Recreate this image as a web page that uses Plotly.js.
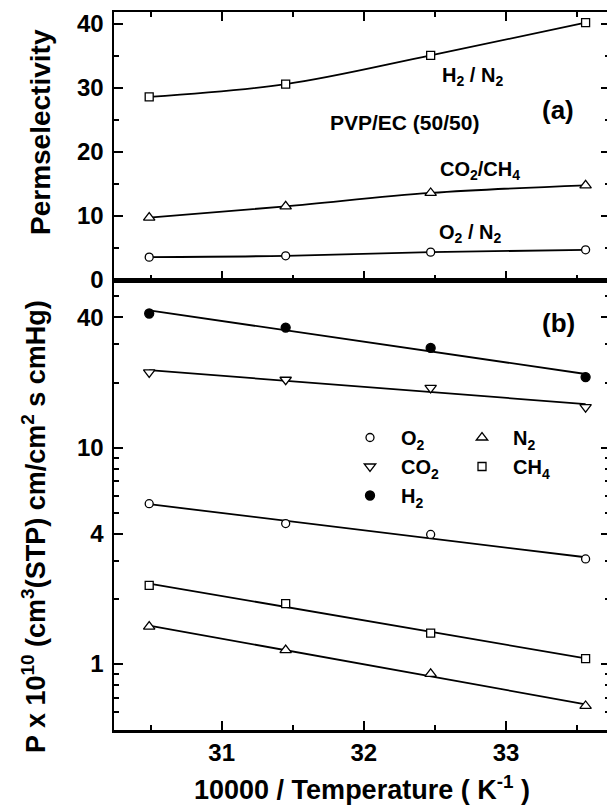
<!DOCTYPE html>
<html>
<head>
<meta charset="utf-8">
<script src="https://cdn.plot.ly/plotly-3.0.1.min.js"></script>
<style>
html, body { margin: 0; padding: 0; overflow: hidden; background: #fff; }
#chart { width: 622px; height: 805px; }
</style>
</head>
<body>
<div id="chart"></div>
<script>
// ---- data ----
const invT = [30.49, 31.45, 32.47, 33.56];          // 10000 / T (K^-1)
const selH2N2 = [28.6, 30.6, 35.1, 40.2];
const selCO2CH4 = [9.75, 11.5, 13.6, 14.8];
const selO2N2 = [3.57, 3.78, 4.35, 4.72];
const permO2 = [5.51, 4.46, 3.97, 3.06];
const permN2 = [1.49, 1.16, 0.90, 0.64];
const permCO2 = [22.3, 20.6, 18.9, 15.4];
const permCH4 = [2.31, 1.90, 1.39, 1.06];
const permH2 = [41.7, 35.9, 28.9, 21.2];
const xTickVals = [31, 32, 33];
const xTickText = ['31', '32', '33'];
const selTickVals = [0, 10, 20, 30, 40];
const selTickText = ['0', '10', '20', '30', '40'];
const permTickVals = [1, 4, 10, 40];
const permTickText = ['1', '4', '10', '40'];

// ---- geometry helpers ----
const W = 622, H = 805;
const L = 114, R = 610, TOP = 12, BOT = 730, MID = 280;
const PW = R - L, PH = BOT - TOP;
const px = x => (x - L) / PW;
const py = y => (BOT - y) / PH;
const splitFrac = (BOT - MID) / PH;

const FONT = 'Liberation Sans, Arial, Helvetica, sans-serif';

// least squares fit in log space (Arrhenius line)
function logFit(xs, ys) {
  const n = xs.length;
  const ly = ys.map(v => Math.log10(v));
  const mx = xs.reduce((a, b) => a + b, 0) / n;
  const my = ly.reduce((a, b) => a + b, 0) / n;
  let sxy = 0, sxx = 0;
  for (let i = 0; i < n; i++) { sxy += (xs[i] - mx) * (ly[i] - my); sxx += (xs[i] - mx) ** 2; }
  const b = sxy / sxx, a = my - b * mx;
  const xe = [xs[0], xs[n - 1]];
  return { x: xe, y: xe.map(x => Math.pow(10, a + b * x)) };
}

const mk = (symbol, fill, size) => ({ symbol: symbol, size: size, color: fill, line: { color: '#000', width: 1.3 } });
const lineStyle = { color: '#000', width: 1.8 };

const traces = [];
// panel (a)
traces.push({ x: invT, y: selH2N2, xaxis: 'x2', yaxis: 'y', mode: 'lines+markers', line: Object.assign({ shape: 'spline' }, lineStyle), marker: mk('square', '#fff', 8), showlegend: false, cliponaxis: false });
traces.push({ x: invT, y: selCO2CH4, xaxis: 'x2', yaxis: 'y', mode: 'lines+markers', line: Object.assign({ shape: 'spline' }, lineStyle), marker: mk('triangle-up', '#fff', 10), showlegend: false, cliponaxis: false });
traces.push({ x: invT, y: selO2N2, xaxis: 'x2', yaxis: 'y', mode: 'lines+markers', line: Object.assign({ shape: 'spline' }, lineStyle), marker: mk('circle', '#fff', 8), showlegend: false, cliponaxis: false });

// panel (b) fit lines
[permH2, permCO2, permO2, permCH4, permN2].forEach(s => {
  const f = logFit(invT, s);
  traces.push({ x: f.x, y: f.y, xaxis: 'x', yaxis: 'y2', mode: 'lines', line: lineStyle, showlegend: false, hoverinfo: 'skip' });
});
// panel (b) markers
traces.push({ x: invT, y: permO2, xaxis: 'x', yaxis: 'y2', mode: 'markers', name: 'O<sub>2</sub>', marker: mk('circle', '#fff', 8), legend: 'legend', legendgroup: 'a' });
traces.push({ x: invT, y: permCO2, xaxis: 'x', yaxis: 'y2', mode: 'markers', name: 'CO<sub>2</sub>', marker: mk('triangle-down', '#fff', 10), legend: 'legend', legendgroup: 'b' });
traces.push({ x: invT, y: permH2, xaxis: 'x', yaxis: 'y2', mode: 'markers', name: 'H<sub>2</sub>', marker: mk('circle', '#000', 9), legend: 'legend', legendgroup: 'c' });
traces.push({ x: invT, y: permN2, xaxis: 'x', yaxis: 'y2', mode: 'markers', name: 'N<sub>2</sub>', marker: mk('triangle-up', '#fff', 10), legend: 'legend2', legendgroup: 'd' });
traces.push({ x: invT, y: permCH4, xaxis: 'x', yaxis: 'y2', mode: 'markers', name: 'CH<sub>4</sub>', marker: mk('square', '#fff', 8), legend: 'legend2', legendgroup: 'e' });

const xr = [31 - (221.7 - L) / 142.15, 31 + (R - 221.7) / 142.15];
const tickFont = { family: FONT, size: 24, color: '#000', weight: 700 };
const xMinor = { tickvals: [30.5, 31.5, 32.5, 33.5], ticklen: 5, tickwidth: 2, tickcolor: '#000', ticks: 'inside' };

const legendCommon = {
  orientation: 'v', xanchor: 'left', yanchor: 'top', bgcolor: 'rgba(0,0,0,0)', borderwidth: 0,
  font: { family: FONT, size: 20, color: '#000', weight: 700 }, tracegroupgap: 0, itemwidth: 52
};

const layout = {
  width: W, height: H,
  margin: { l: L, r: W - R, t: TOP, b: H - BOT, pad: 0 },
  paper_bgcolor: '#fff', plot_bgcolor: '#fff',
  font: { family: FONT, color: '#000' },
  showlegend: true,
  xaxis: {
    domain: [0, 1], anchor: 'y2', range: xr, showgrid: false, zeroline: false,
    showline: true, linewidth: 2.5, linecolor: '#000', mirror: true,
    ticks: 'inside', ticklen: 9, tickwidth: 2, tickcolor: '#000',
    tickmode: 'array', tickvals: xTickVals, ticktext: xTickText, tickfont: tickFont,
    minor: xMinor,
    title: { text: '10000 / Temperature ( K<sup>-1</sup> )', font: { family: FONT, size: 27, color: '#000', weight: 700 }, standoff: 16 }
  },
  xaxis2: {
    domain: [0, 1], anchor: 'y', matches: 'x', range: xr, showgrid: false, zeroline: false,
    showline: true, linewidth: 2.5, linecolor: '#000', mirror: 'ticks',
    ticks: 'inside', ticklen: 9, tickwidth: 2, tickcolor: '#000',
    tickmode: 'array', tickvals: xTickVals, showticklabels: false,
    minor: xMinor
  },
  yaxis: {
    domain: [splitFrac, 1], anchor: 'x2', range: [0, 40 + (24 - TOP) / 6.4], showgrid: false, zeroline: false,
    showline: true, linewidth: 2.5, linecolor: '#000', mirror: 'ticks',
    ticks: 'inside', ticklen: 9, tickwidth: 2, tickcolor: '#000',
    tickmode: 'array', tickvals: selTickVals, ticktext: selTickText, tickfont: tickFont, ticklabelstandoff: 3,
    minor: { tickvals: [5, 15, 25, 35], ticklen: 5, tickwidth: 2, tickcolor: '#000', ticks: 'inside' }
  },
  yaxis2: {
    domain: [0, splitFrac], anchor: 'x', type: 'log', range: [-0.305, 1.775], showgrid: false, zeroline: false,
    showline: true, linewidth: 2.5, linecolor: '#000', mirror: 'ticks',
    ticks: 'inside', ticklen: 9, tickwidth: 2, tickcolor: '#000',
    tickmode: 'array', tickvals: permTickVals, ticktext: permTickText, tickfont: tickFont, ticklabelstandoff: 3,
    minor: { tickvals: [0.5, 0.6, 0.7, 0.8, 0.9, 2, 3, 5, 6, 7, 8, 9, 20, 30, 50], ticklen: 5, tickwidth: 2, tickcolor: '#000', ticks: 'inside' }
  },
  legend: Object.assign({}, legendCommon, { x: px(339), y: py(418) }),
  legend2: Object.assign({}, legendCommon, { x: px(451), y: py(418) }),
  annotations: [
    { text: 'H<sub>2</sub> / N<sub>2</sub>', x: px(472), y: py(77), size: 20 },
    { text: 'PVP/EC (50/50)', x: px(404), y: py(122), size: 21 },
    { text: '(a)', x: px(558), y: py(110), size: 26 },
    { text: 'CO<sub>2</sub>/CH<sub>4</sub>', x: px(480), y: py(170), size: 20 },
    { text: 'O<sub>2</sub> / N<sub>2</sub>', x: px(470), y: py(233), size: 20 },
    { text: '(b)', x: px(558), y: py(323), size: 26 },
    { text: 'Permselectivity', x: px(40), y: py(132), size: 28, angle: -90 },
    { text: 'P x 10<sup>10</sup> (cm<sup>3</sup>(STP) cm/cm<sup>2</sup> s cmHg)', x: px(34), y: py(527), size: 27, angle: -90 }
  ].map(a => ({
    text: a.text, x: a.x, y: a.y, xref: 'paper', yref: 'paper', showarrow: false,
    xanchor: 'center', yanchor: 'middle', textangle: a.angle || 0,
    font: { family: FONT, size: a.size, color: '#000', weight: 700 }
  }))
};

Plotly.newPlot('chart', traces, layout, { displayModeBar: false, staticPlot: true });
</script>
</body>
</html>
